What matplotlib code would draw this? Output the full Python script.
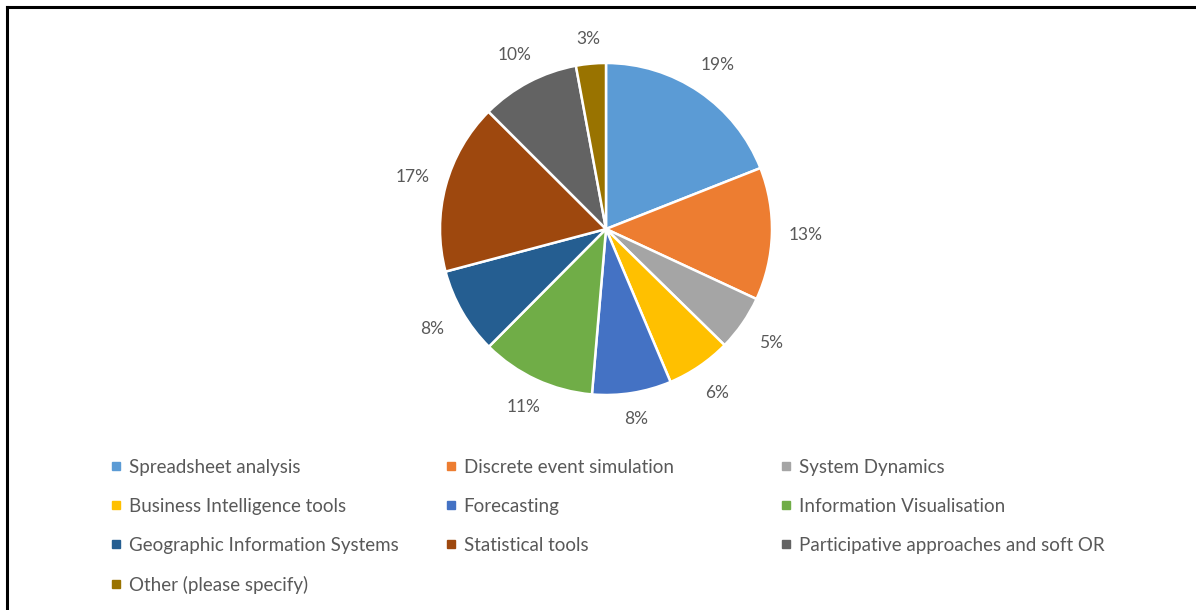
import numpy as np
import matplotlib.pyplot as plt
from matplotlib.lines import Line2D

# data (slice sizes in %)
labels = [
    "Spreadsheet analysis",
    "Discrete event simulation",
    "System Dynamics",
    "Business Intelligence tools",
    "Forecasting",
    "Information Visualisation",
    "Geographic Information Systems",
    "Statistical tools",
    "Participative approaches and soft OR",
    "Other (please specify)",
]
values = [19.0, 12.9, 5.4, 6.3, 7.7, 11.1, 8.4, 16.6, 9.6, 2.9]
colors = ["#5B9BD5", "#ED7D31", "#A5A5A5", "#FFC000", "#4472C4",
          "#70AD47", "#255E91", "#9E480E", "#636363", "#997300"]

plt.rcParams["font.family"] = ["Lato", "DejaVu Sans"]
text_col = "#595959"

W, H = 1196, 610
fig = plt.figure(figsize=(W / 100, H / 100), dpi=100)

# pie axes: centre ~ (606, 229) px, radius ~166 px
cx, cy, r = 606, 229, 166
ax = fig.add_axes([(cx - r) / W, 1 - (cy + r) / H, 2 * r / W, 2 * r / H])
wedges, _, autotexts = ax.pie(
    values, colors=colors, startangle=90, counterclock=False,
    autopct=lambda p: f"{p:.0f}%", pctdistance=1.19, radius=1,
    wedgeprops=dict(edgecolor="white", linewidth=1.8),
    textprops=dict(color=text_col, fontsize=12.5),
)
ax.set_xlim(-1, 1)
ax.set_ylim(-1, 1)
ax.set_aspect("equal")

# "outside end" labels: fixed gap from the rim, plus half the text box
gap, half_w, half_h = 0.10, 0.10, 0.043
for w, t in zip(wedges, autotexts):
    th = np.deg2rad((w.theta1 + w.theta2) / 2)
    d = 1 + gap + half_w * abs(np.cos(th)) + half_h * abs(np.sin(th))
    t.set_position((d * np.cos(th), d * np.sin(th)))

# legend laid out row by row like Excel: one legend per column
col_x = [110, 445, 780]
for c in range(3):
    idx = list(range(c, len(labels), 3))
    handles = [Line2D([], [], marker="s", linestyle="none", markersize=6,
                      markerfacecolor=colors[i], markeredgecolor=colors[i]) for i in idx]
    leg = fig.legend(handles, [labels[i] for i in idx], loc="upper left",
                     bbox_to_anchor=(col_x[c] / W, 1 - 459 / H),
                     frameon=False, fontsize=13.5, labelcolor=text_col,
                     handlelength=0.6, handletextpad=0.4,
                     labelspacing=1.17, borderaxespad=0, borderpad=0)

# black frame on top/left like the screenshot crop
fig.add_artist(Line2D([6.5 / W, 6.5 / W], [0, 1 - 6.5 / H], color="black", lw=2.2))
fig.add_artist(Line2D([6.5 / W, 1], [1 - 6.5 / H, 1 - 6.5 / H], color="black", lw=2.2))

fig.savefig("out.png", dpi=100)
